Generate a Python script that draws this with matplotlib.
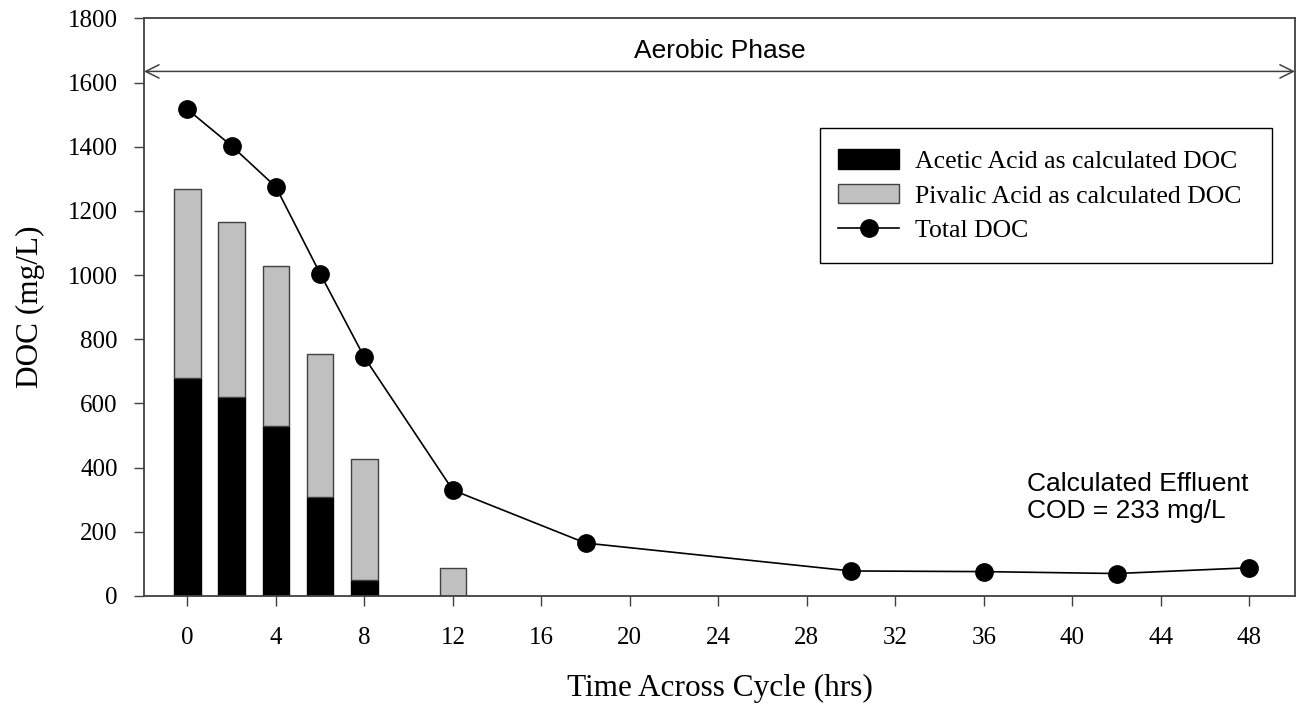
import matplotlib.pyplot as plt
from matplotlib.patches import Patch, Rectangle
from matplotlib.lines import Line2D

# bar data (hrs, mg/L as DOC)
bar_hours = [0, 2, 4, 6, 8, 12]
acetic = [678, 620, 529, 308, 50, 0]
pivalic = [589, 546, 500, 445, 377, 88]

# measured total DOC
doc_hours = [0, 2, 4, 6, 8, 12, 18, 30, 36, 42, 48]
total_doc = [1517, 1403, 1275, 1005, 744, 330, 165, 78, 76, 70, 88]

serif = ["Liberation Serif", "DejaVu Serif"]
sans = ["Liberation Sans", "DejaVu Sans"]
edge = "#404040"

fig = plt.figure(figsize=(12.96, 7.08), dpi=100)
ax = fig.add_axes([0.1111, 0.1582, 0.8881, 0.8157])

ax.bar(bar_hours, acetic, width=1.2, color="black", edgecolor="black", linewidth=1, zorder=2)
ax.bar(bar_hours, pivalic, width=1.2, bottom=acetic, color="#c0c0c0",
       edgecolor=edge, linewidth=1, zorder=2)
ax.plot(doc_hours, total_doc, color="black", linewidth=1.2, marker="o",
        markersize=12.5, zorder=3)

ax.set_xlim(-1.96, 50.06)
ax.set_ylim(0, 1800)
ax.set_xticks(range(0, 49, 4))
ax.set_yticks(range(0, 1801, 200))
for s in ax.spines.values():
    s.set_color(edge)
    s.set_linewidth(1.3)
ax.tick_params(direction="out", length=7, width=1, color=edge, labelsize=18, pad=12)
ax.tick_params(axis="x", pad=15)
for lbl in ax.get_xticklabels() + ax.get_yticklabels():
    lbl.set_family(serif)

ax.set_xlabel("Time Across Cycle (hrs)", family=serif, fontsize=22.5, labelpad=18)
ax.set_ylabel("DOC (mg/L)", family=serif, fontsize=22.5, labelpad=16)

# aerobic phase span
ax.annotate("", xy=(-1.96, 1635), xytext=(50.06, 1635),
            arrowprops=dict(arrowstyle="<->", color=edge, lw=1.1,
                            shrinkA=0, shrinkB=0, mutation_scale=24))
ax.text(24.05, 1678, "Aerobic Phase", family=sans, fontsize=19, ha="center", va="baseline")

ax.text(37.97, 327, "Calculated Effluent", family=sans, fontsize=19, ha="left", va="baseline")
ax.text(37.97, 243, "COD = 233 mg/L", family=sans, fontsize=19, ha="left", va="baseline")

handles = [
    Patch(facecolor="black", edgecolor="black"),
    Patch(facecolor="#c0c0c0", edgecolor=edge),
    Line2D([], [], color="black", linewidth=1.2, marker="o", markersize=12.5),
]
labels = ["Acetic Acid as calculated DOC", "Pivalic Acid as calculated DOC", "Total DOC"]
ax.legend(handles, labels, loc="upper left", bbox_to_anchor=(0.5844, 0.811),
          prop={"family": serif, "size": 18.5}, frameon=False,
          handlelength=2.37, handleheight=0.78, borderpad=0.85,
          labelspacing=0.43, handletextpad=0.62, borderaxespad=0)
# legend frame
ax.add_patch(Rectangle((0.587, 0.576), 0.393, 0.235, transform=ax.transAxes,
                       facecolor="none", edgecolor="black", linewidth=1, zorder=4))

fig.savefig("out.png", dpi=100)
